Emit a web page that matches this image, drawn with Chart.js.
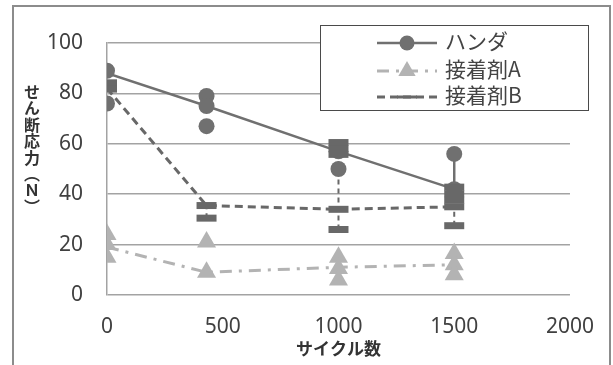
<!DOCTYPE html>
<html>
<head>
<meta charset="utf-8">
<script src="https://cdn.jsdelivr.net/npm/chart.js@4/dist/chart.umd.min.js"></script>
<style>
  html, body { margin: 0; padding: 0; background: #fff; }
  #wrap { position: relative; width: 613px; height: 365px; overflow: hidden; }
  #c { position: absolute; left: 0; top: 0; }
  #ytitle {
    position: absolute; left: 24px; top: 84px;
    writing-mode: vertical-rl;
    font: bold 16px "Noto Sans CJK JP", sans-serif;
    color: #333; letter-spacing: 0.4px; line-height: 1;
  }
</style>
</head>
<body>
<div id="wrap">
  <canvas id="c" width="613" height="365"></canvas>
  <div id="ytitle">せん断応力（Ｎ）</div>
</div>
<script>
// Cycle counts at which the joints were tested
const cycles = [0, 430, 1000, 1500];
const seriesNames = ['ハンダ', '接着剤A', '接着剤B'];
const xTicks = [0, 500, 1000, 1500, 2000];
const yTicks = [0, 20, 40, 60, 80, 100];

// Trend (representative) values per cycle count
const solderMean = [88, 75, 57, 42];
const adhesiveAMean = [19, 9, 11, 12];
const adhesiveBMean = [82, 35.5, 34, 35];

// Individual measurements, grouped by cycle count
const solderSamples = [[89, 76], [79, 75, 67], [57, 50], [56, 42]];
const adhesiveASamples = [[24, 20, 15], [21, 9], [15, 10.5, 6], [16.5, 12, 8]];
const adhesiveBSamples = [[84.2, 81.7], [35.5, 30.5], [60.5, 58, 55.8, 34, 26], [42.8, 40.2, 37.6, 35, 27.5]];

// Spread bars [low, high] per cycle count (null = none)
const solderRange = [null, null, null, [42, 56]];
const adhesiveBRange = [null, [30.5, 35.5], [26, 55.8], [27.5, 35]];

const toPoints = (ys) => cycles.map((x, i) => ({ x, y: ys[i] }));
const toScatter = (groups) => groups.flatMap((g, i) => g.map(y => ({ x: cycles[i], y })));

const styles = {
  solder: { color: '#707070', lineWidth: 2.5, dash: [], marker: 'circle', radius: 8, markerWidth: 0 },
  adhA:   { color: '#b3b3b3', lineWidth: 3, dash: [12, 7, 3, 7], marker: 'triangle', radius: 11, markerWidth: 0 },
  adhB:   { color: '#686868', lineWidth: 3, dash: [8, 5], marker: 'line', radius: 10, markerWidth: 7 }
};

function lineDataset(label, data, s, order) {
  return {
    label, data: toPoints(data), showLine: true, order,
    borderColor: s.color, borderWidth: s.lineWidth, borderDash: s.dash,
    pointRadius: 0, fill: false, tension: 0
  };
}
function markerDataset(label, groups, s, order) {
  return {
    label, data: toScatter(groups), showLine: false, order,
    pointStyle: s.marker, pointRadius: s.radius,
    pointBackgroundColor: s.color, pointBorderColor: s.color,
    pointBorderWidth: s.markerWidth
  };
}

const datasets = [
  markerDataset(seriesNames[2], adhesiveBSamples, styles.adhB, 0),
  lineDataset(seriesNames[2], adhesiveBMean, styles.adhB, 1),
  markerDataset(seriesNames[0], solderSamples, styles.solder, 2),
  lineDataset(seriesNames[0], solderMean, styles.solder, 3),
  markerDataset(seriesNames[1], adhesiveASamples, styles.adhA, 4),
  lineDataset(seriesNames[1], adhesiveAMean, styles.adhA, 5)
];

// Outer frame of the figure
const framePlugin = {
  id: 'frame',
  beforeDraw(chart) {
    const ctx = chart.ctx;
    ctx.save();
    ctx.fillStyle = '#fff';
    ctx.fillRect(0, 0, chart.width, chart.height);
    ctx.strokeStyle = '#8c8c8c';
    ctx.lineWidth = 2;
    ctx.strokeRect(13, 6, 597, 400);
    ctx.restore();
  }
};

// Vertical spread bars drawn beneath the markers
const rangePlugin = {
  id: 'ranges',
  beforeDatasetsDraw(chart) {
    const { ctx, scales: { x, y } } = chart;
    const sets = [
      { r: solderRange, s: styles.solder, w: 2.5, dash: [] },
      { r: adhesiveBRange, s: styles.adhB, w: 2, dash: [5, 4] }
    ];
    ctx.save();
    sets.forEach(({ r, s, w, dash }) => {
      r.forEach((rg, i) => {
        if (!rg) return;
        const px = x.getPixelForValue(cycles[i]);
        ctx.strokeStyle = s.color;
        ctx.lineWidth = w;
        ctx.setLineDash(dash);
        ctx.beginPath();
        ctx.moveTo(px, y.getPixelForValue(rg[0]));
        ctx.lineTo(px, y.getPixelForValue(rg[1]));
        ctx.stroke();
      });
    });
    ctx.restore();
  }
};

// Boxed legend with line + marker samples
const legendPlugin = {
  id: 'boxLegend',
  afterDraw(chart) {
    const ctx = chart.ctx;
    const box = { x: 320, y: 25, w: 268, h: 85 };
    ctx.save();
    ctx.fillStyle = '#fff';
    ctx.fillRect(box.x, box.y, box.w, box.h);
    ctx.strokeStyle = '#4a4a4a';
    ctx.lineWidth = 1;
    ctx.strokeRect(box.x + 0.5, box.y + 0.5, box.w, box.h);
    const rows = [
      { name: seriesNames[0], s: styles.solder, y: 43, r: 7.5 },
      { name: seriesNames[1], s: styles.adhA, y: 71, r: 10 },
      { name: seriesNames[2], s: styles.adhB, y: 97, r: 10 }
    ];
    rows.forEach(({ name, s, y, r }) => {
      ctx.strokeStyle = s.color;
      ctx.lineWidth = s.lineWidth;
      ctx.setLineDash(s.dash);
      ctx.beginPath();
      ctx.moveTo(377, y);
      ctx.lineTo(437, y);
      ctx.stroke();
      ctx.setLineDash([]);
      ctx.fillStyle = s.color;
      ctx.strokeStyle = s.color;
      Chart.helpers.drawPoint(ctx, {
        pointStyle: s.marker, radius: r, rotation: 0,
        borderWidth: s.marker === 'line' ? 5 : 0
      }, 407, y);
      ctx.fillStyle = '#444';
      ctx.font = '21px "Noto Sans CJK JP"';
      ctx.textBaseline = 'middle';
      ctx.textAlign = 'left';
      ctx.fillText(name, 445, y - 2);
    });
    ctx.restore();
  }
};

new Chart(document.getElementById('c'), {
  type: 'scatter',
  data: { datasets },
  options: {
    responsive: false,
    animation: false,
    events: [],
    layout: { padding: { left: 0, right: 37, top: 43, bottom: 0 } },
    plugins: { legend: { display: false }, tooltip: { enabled: false } },
    scales: {
      x: {
        type: 'linear', min: 0, max: 2000,
        afterBuildTicks: (sc) => { sc.ticks = xTicks.map(v => ({ value: v })); },
        afterFit: (sc) => { sc.height = 70; },
        grid: { display: false, drawTicks: false },
        border: { display: false },
        ticks: {
          padding: 19, color: '#404040', font: { family: 'Noto Sans', size: 21 },
          callback: (v) => String(v)
        },
        title: {
          display: true, text: 'サイクル数', color: '#333',
          font: { family: 'Noto Sans CJK JP', size: 17, weight: 'bold' },
          padding: { top: 0, bottom: 6 }
        }
      },
      y: {
        type: 'linear', min: 0, max: 100,
        afterBuildTicks: (sc) => { sc.ticks = yTicks.map(v => ({ value: v })); },
        afterFit: (sc) => { sc.width = 107; },
        grid: { color: '#a3a3a3', lineWidth: 1.5, drawTicks: false },
        border: { display: true, color: '#a3a3a3', width: 1.5 },
        ticks: {
          padding: 24, color: '#404040', font: { family: 'Noto Sans', size: 21 },
          callback: (v) => String(v)
        }
      }
    }
  },
  plugins: [framePlugin, rangePlugin, legendPlugin]
});
</script>
</body>
</html>
